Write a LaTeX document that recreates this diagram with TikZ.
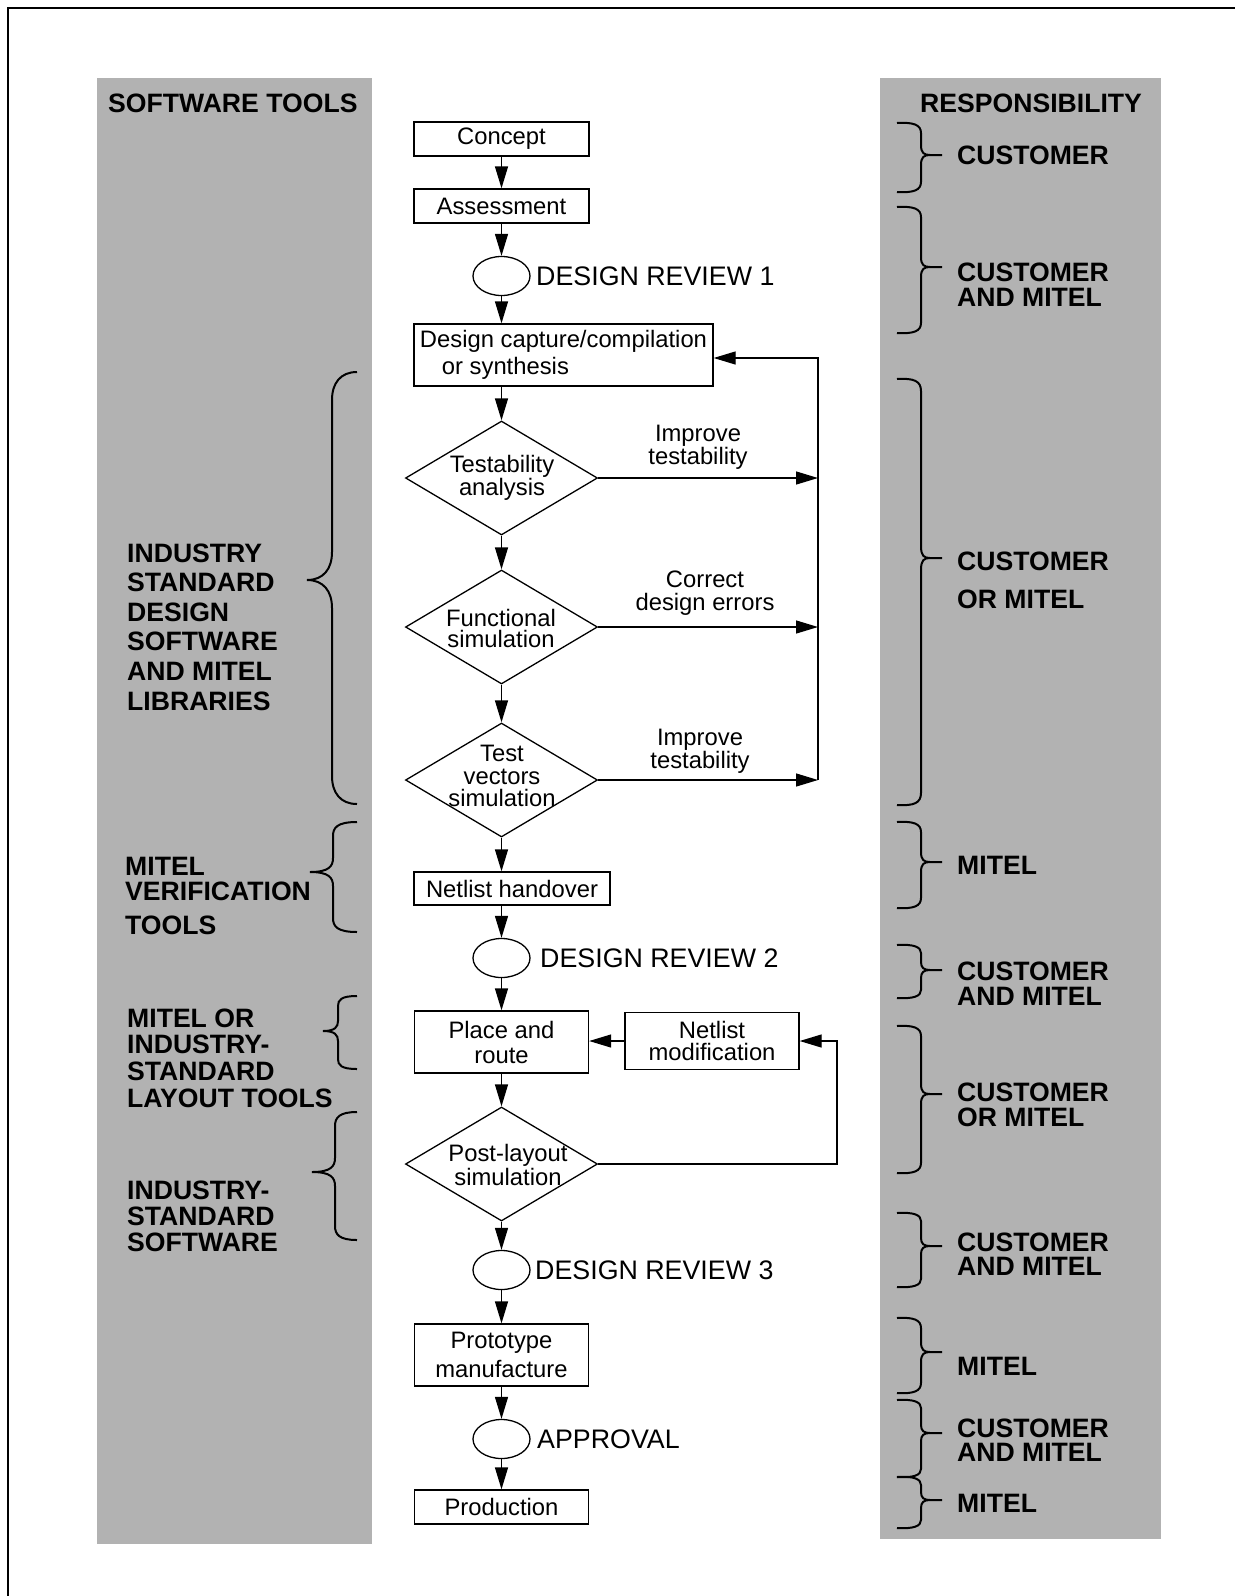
\documentclass[tikz,border=0pt]{standalone}
\usepackage{fontspec}
\setmainfont{Liberation Sans}
\usetikzlibrary{shapes.geometric,arrows.meta}
% right brace: top, tip, bottom, radius
\newcommand{\BrR}[4]{%
  \draw[brc] (897,#1) .. controls (914,#1-1) and (921,#1+2) .. (921,#1+#4)
    -- (921,#2-#4) .. controls (921,#2-2) and (924,#2) .. (930,#2) -- (942,#2)
    (930,#2) .. controls (924,#2) and (921,#2+2) .. (921,#2+#4)
    -- (921,#3-#4) .. controls (921,#3-2) and (914,#3+1) .. (897,#3);}
% left brace: top, tip, bottom, radius, xend, xvert, xtip
\newcommand{\BrL}[7]{%
  \draw[brc] (#5,#1) .. controls (#6+0.3*#4,#1) and (#6,#1+0.4*#4) .. (#6,#1+#4)
    -- (#6,#2-#4) .. controls (#6,#2-0.4*#4) and (#6-0.3*#4,#2) .. (#7,#2)
    .. controls (#6-0.3*#4,#2) and (#6,#2+0.4*#4) .. (#6,#2+#4)
    -- (#6,#3-#4) .. controls (#6,#3-0.4*#4) and (#6+0.3*#4,#3) .. (#5,#3);}
\begin{document}
\begin{tikzpicture}[x=1pt,y=-1pt,
  flow/.style={font=\fontsize{23.8}{#1}\selectfont},
  flow/.default=22,
  box/.style={draw, line width=1.3pt, fill=white, inner sep=0pt, align=center},
  dia/.style={draw, diamond, line width=1.3pt, fill=white, inner sep=0pt, minimum width=192pt, minimum height=114pt},
  oval/.style={draw, ellipse, line width=1.3pt, fill=white, inner sep=0pt, minimum width=57pt, minimum height=39pt},
  ftext/.style={inner sep=0pt, align=center},
  rev/.style={inner sep=0pt, anchor=west, font=\fontsize{26.8}{26.8}\selectfont},
  lab/.style={inner sep=0pt, anchor=west, align=left, font=\fontsize{26.6}{#1}\selectfont\bfseries},
  lab/.default=24.5,
  arr/.style={-{Triangle[length=22pt,width=13pt]}, line width=1.3pt},
  brc/.style={line width=2pt}]
\useasboundingbox (0,0) rectangle (1235,1596);
\fill[white] (0,0) rectangle (1235,1596);
\draw[line width=2pt] (8,1596) -- (8,8) -- (1235,8);
% grey columns
\fill[black!30] (97,78) rectangle (372,1544);
\fill[black!30] (880,78) rectangle (1161,1539);

% column headings
\node[lab] (swt) at (108,103) {SOFTWARE TOOLS};
\node[lab] (resp) at (920,103) {RESPONSIBILITY};

% flow nodes
\node[box, flow, minimum width=175pt, minimum height=34pt] (concept) at (501.5,139) {Concept};
\node[box, flow, minimum width=175pt, minimum height=34pt] (assess) at (501.5,206) {Assessment};
\node[oval] (e1) at (501.5,276) {};
\node[rev] (r1) at (536,276) {DESIGN REVIEW 1};
\node[box, flow=27, align=left, minimum width=299pt, minimum height=62pt] (dc) at (563.5,355) {Design capture/compilation\\\hspace*{22pt}or synthesis};
\node[dia] (d1) at (501.5,478) {};
\node[ftext, flow=21] (t1) at (502,478) {Testability\\analysis};
\node[dia] (d2) at (501.5,627) {};
\node[ftext, flow=21] (t2) at (501,628) {Functional\\simulation};
\node[dia] (d3) at (501.5,780) {};
\node[ftext, flow=22.5] (t3) at (502,776) {Test\\vectors\\simulation};
\node[box, flow, minimum width=196pt, minimum height=33pt] (nh) at (512,888.5) {Netlist handover};
\node[oval] (e2) at (501.5,958) {};
\node[rev] (r2) at (540,958) {DESIGN REVIEW 2};
\node[box, flow=25, minimum width=174pt, minimum height=62pt] (pr) at (501.5,1042) {Place and\\route};
\node[box, flow, minimum width=174pt, minimum height=57pt] (nm) at (712,1041) {Netlist\\modification};
\node[dia] (d4) at (501.5,1164) {};
\node[ftext, flow] (t4) at (508,1165) {Post-layout\\simulation};
\node[oval] (e3) at (501.5,1270) {};
\node[rev] (r3) at (535,1270) {DESIGN REVIEW 3};
\node[box, flow=29, minimum width=174pt, minimum height=62pt] (proto) at (501.5,1355) {Prototype\\manufacture};
\node[oval] (e4) at (501.5,1439) {};
\node[rev] (r4) at (537,1439) {APPROVAL};
\node[box, flow, minimum width=174pt, minimum height=34pt] (prod) at (501.5,1507) {Production};

% loop labels
\node[ftext, flow] (l1) at (698,447) {Improve\\testability};
\node[ftext, flow=23] (l2) at (705,593) {Correct\\design errors};
\node[ftext, flow=23] (l3) at (700,751) {Improve\\testability};

% main arrows
\draw[arr] (concept.south) -- (assess.north);
\draw[arr] (assess.south) -- (e1.north);
\draw[arr] (e1.south) -- (e1.south |- dc.north);
\draw[arr] (d1.north |- dc.south) -- (d1.north);
\draw[arr] (d1.south) -- (d2.north);
\draw[arr] (d2.south) -- (d3.north);
\draw[arr] (d3.south) -- (d3.south |- nh.north);
\draw[arr] (e2.north |- nh.south) -- (e2.north);
\draw[arr] (e2.south) -- (pr.north);
\draw[arr] (pr.south) -- (d4.north);
\draw[arr] (d4.south) -- (e3.north);
\draw[arr] (e3.south) -- (proto.north);
\draw[arr] (proto.south) -- (e4.north);
\draw[arr] (e4.south) -- (prod.north);

% feedback loop
\coordinate (lx) at (818,358);
\draw[arr] (d1.east) -- (d1.east -| lx);
\draw[arr] (d2.east) -- (d2.east -| lx);
\draw[arr] (d3.east) -- (d3.east -| lx);
\draw[arr] (d3.east -| lx) -- (lx) -- (lx -| dc.east);
\coordinate (rx) at (837,1041);
\draw[arr] (d4.east) -| (rx) -- (nm.east);
\draw[arr] (nm.west) -- (nm.west -| pr.east);

% left labels
\node[lab=29.6] (ls1) at (127,627) {INDUSTRY\\STANDARD\\DESIGN\\SOFTWARE\\AND MITEL\\LIBRARIES};
\node[lab=25] (ls2) at (125,896) {MITEL\\VERIFICATION\\[9pt]TOOLS};
\node[lab=26.7] (ls3) at (127,1058) {MITEL OR\\INDUSTRY-\\STANDARD\\LAYOUT TOOLS};
\node[lab=26] (ls4) at (127,1216) {INDUSTRY-\\STANDARD\\SOFTWARE};

% left braces
\BrL{372}{580}{804}{28}{357}{332}{307}
\BrL{822}{872}{932}{14}{357}{333}{310}
\BrL{996}{1031}{1069}{10}{357}{338}{323}
\BrL{1112}{1172}{1240}{14}{357}{335}{312}

% right labels
\node[lab] (rs1) at (957,155) {CUSTOMER};
\node[lab] (rs2) at (957,284.5) {CUSTOMER\\AND MITEL};
\node[lab=38] (rs3) at (957,580) {CUSTOMER\\OR MITEL};
\node[lab] (rs4) at (957,865) {MITEL};
\node[lab=25] (rs5) at (957,983.5) {CUSTOMER\\AND MITEL};
\node[lab] (rs6) at (957,1105) {CUSTOMER\\OR MITEL};
\node[lab] (rs7) at (957,1254) {CUSTOMER\\AND MITEL};
\node[lab] (rs8) at (957,1366) {MITEL};
\node[lab] (rs9) at (957,1440) {CUSTOMER\\AND MITEL};
\node[lab] (rs10) at (957,1503) {MITEL};

% right braces
\BrR{123}{155}{192}{10}
\BrR{207}{267}{333}{10}
\BrR{379}{558}{805}{12}
\BrR{822}{862}{908}{10}
\BrR{945}{970}{998}{8}
\BrR{1026}{1094}{1173}{10}
\BrR{1213}{1246}{1287}{8}
\BrR{1318}{1352}{1393}{10}
\BrR{1400}{1433}{1477}{8}
\BrR{1477}{1500}{1528}{8}
\end{tikzpicture}
\end{document}
